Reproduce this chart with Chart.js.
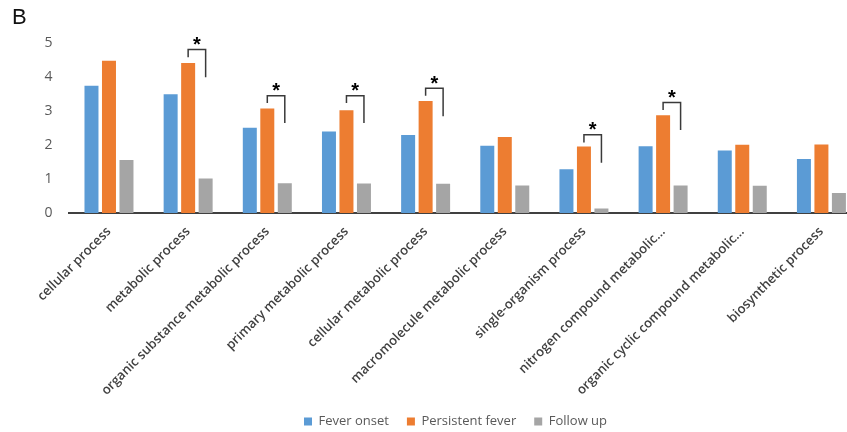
<!DOCTYPE html>
<html>
<head>
<meta charset="utf-8">
<script src="https://cdn.jsdelivr.net/npm/chart.js@4/dist/chart.umd.min.js"></script>
<style>
  html, body { margin: 0; padding: 0; background: #fff; overflow: hidden; }
  #wrap { width: 847px; height: 432px; overflow: hidden; }
</style>
</head>
<body>
<div id="wrap"><canvas id="c" width="861" height="438"></canvas></div>
<script>
// GO terms (biological process)
const categories = [
  'cellular process',
  'metabolic process',
  'organic substance metabolic process',
  'primary metabolic process',
  'cellular metabolic process',
  'macromolecule metabolic process',
  'single-organism process',
  'nitrogen compound metabolic...',
  'organic cyclic compound metabolic...',
  'biosynthetic process'
];

const feverOnset      = [3.75, 3.50, 2.51, 2.40, 2.30, 1.98, 1.29, 1.97, 1.84, 1.59];
const persistentFever = [4.49, 4.42, 3.08, 3.03, 3.30, 2.24, 1.96, 2.88, 2.01, 2.02];
const followUp        = [1.56, 1.02, 0.88, 0.87, 0.86, 0.81, 0.13, 0.81, 0.80, 0.59];

const seriesNames = ['Fever onset', 'Persistent fever', 'Follow up'];
const seriesColors = ['#5B9BD5', '#ED7D31', '#A5A5A5'];

// Significance brackets: persistent fever vs follow up
const sigCategory   = [1, 2, 3, 4, 6, 7];
const sigTop        = [4.82, 3.46, 3.46, 3.68, 2.31, 3.26];
const sigLeftEnd    = [4.59, 3.24, 3.24, 3.46, 2.08, 3.04];
const sigRightEnd   = [4.00, 2.65, 2.65, 2.85, 1.48, 2.45];
const sigStar       = [5.06, 3.70, 3.70, 3.92, 2.55, 3.50];

const yTicks = [0, 1, 2, 3, 4, 5];

const sigBrackets = {
  id: 'sigBrackets',
  afterDatasetsDraw(chart) {
    const ctx = chart.ctx;
    const y = chart.scales.y;
    const pf = chart.getDatasetMeta(1).data;
    const fu = chart.getDatasetMeta(2).data;
    ctx.save();
    ctx.strokeStyle = '#3a3a3a';
    ctx.lineWidth = 1.5;
    ctx.lineJoin = 'miter';
    sigCategory.forEach((ci, k) => {
      const xl = pf[ci].x;
      const xr = fu[ci].x;
      ctx.beginPath();
      ctx.moveTo(xl, y.getPixelForValue(sigLeftEnd[k]));
      ctx.lineTo(xl, y.getPixelForValue(sigTop[k]));
      ctx.lineTo(xr, y.getPixelForValue(sigTop[k]));
      ctx.lineTo(xr, y.getPixelForValue(sigRightEnd[k]));
      ctx.stroke();
      ctx.fillStyle = '#000';
      ctx.font = 'bold 20px "Liberation Sans", Arial, sans-serif';
      ctx.textAlign = 'center';
      ctx.textBaseline = 'middle';
      ctx.fillText('*', (xl + xr) / 2, y.getPixelForValue(sigStar[k]) + 4);
    });
    ctx.restore();
  }
};

// centre the legend under the plotted groups
const legendShift = {
  id: 'legendShift',
  afterLayout(chart) {
    const lg = chart.legend;
    if (lg) { lg.left += 19; lg.right += 19; }
  }
};

new Chart(document.getElementById('c'), {
  type: 'bar',
  data: {
    labels: categories,
    datasets: [
      { label: seriesNames[0], data: feverOnset,      backgroundColor: seriesColors[0] },
      { label: seriesNames[1], data: persistentFever, backgroundColor: seriesColors[1] },
      { label: seriesNames[2], data: followUp,        backgroundColor: seriesColors[2] }
    ]
  },
  options: {
    responsive: false,
    animation: false,
    devicePixelRatio: 1,
    datasets: { bar: { barPercentage: 0.8, categoryPercentage: 0.663 } },
    layout: { padding: { left: 12, right: 0, top: 0, bottom: 0 } },
    plugins: {
      title: {
        display: true,
        text: 'B',
        align: 'start',
        color: '#111',
        font: { family: '"Liberation Sans", Arial, sans-serif', size: 22, weight: 'normal' },
        padding: { top: 5, bottom: 12 }
      },
      legend: {
        position: 'bottom',
        labels: {
          boxWidth: 8,
          boxHeight: 8,
          padding: 18,
          color: '#595959',
          font: { family: '"Open Sans", sans-serif', size: 13 }
        }
      },
      tooltip: { enabled: false }
    },
    scales: {
      x: {
        grid: { display: false, drawTicks: false },
        border: { display: true, color: '#404040', width: 2 },
        ticks: {
          autoSkip: false,
          minRotation: 45,
          maxRotation: 45,
          padding: 11,
          color: '#404040',
          font: { family: '"Open Sans", sans-serif', size: 13, weight: 600 }
        },
        afterFit(scale) { scale.height = 184; }
      },
      y: {
        min: 0,
        max: 5,
        afterBuildTicks(scale) { scale.ticks = yTicks.map(v => ({ value: v })); },
        grid: { display: false, drawTicks: false },
        border: { display: false },
        ticks: {
          padding: 17,
          color: '#595959',
          font: { family: '"Open Sans", sans-serif', size: 14 }
        },
        afterFit(scale) { scale.width = 57.4; }
      }
    }
  },
  plugins: [sigBrackets, legendShift]
});
</script>
</body>
</html>
